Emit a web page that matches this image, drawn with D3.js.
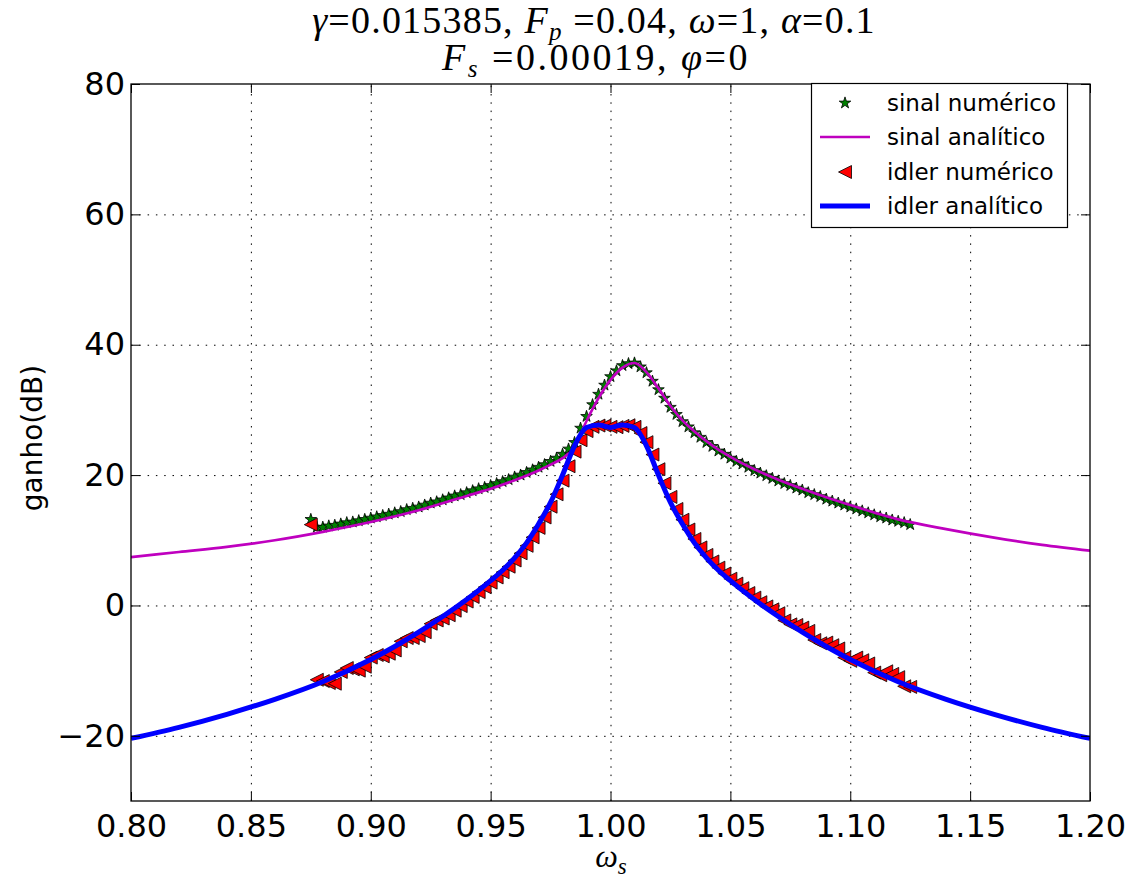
<!DOCTYPE html>
<html>
<head>
<meta charset="utf-8">
<title>ganho</title>
<script src="https://cdnjs.cloudflare.com/ajax/libs/d3/7.8.5/d3.min.js"></script>
<style>
  body { margin: 0; background: #fff; }
  svg { font-family: "DejaVu Sans", sans-serif; }
  .axis path { display: none; }
  .axis line { stroke: #000; stroke-width: 1; }
  .axis text { font-size: 32px; fill: #000; font-family: "DejaVu Sans", sans-serif; }
  .grid line { stroke: #000; stroke-width: 1; stroke-dasharray: 1.5,6.8; }
  .grid path { display: none; }
  .grid text { display: none; }
  .math { font-family: "Liberation Serif", serif; }
</style>
</head>
<body>
<div id="chart"></div>
<script>
// ticks
var xTicks = [0.80, 0.85, 0.90, 0.95, 1.00, 1.05, 1.10, 1.15, 1.20];
var yTicks = [-20, 0, 20, 40, 60, 80];

// curva analitica do sinal
var sinalX = [0.80, 0.82, 0.84, 0.86, 0.88, 0.90, 0.92, 0.94, 0.95, 0.96, 0.97, 0.975, 0.98, 0.985, 0.99, 0.995,
  1.0, 1.005, 1.01, 1.015, 1.02, 1.025, 1.03, 1.035, 1.04, 1.045, 1.05, 1.06, 1.07, 1.08, 1.09, 1.10,
  1.12, 1.14, 1.16, 1.18, 1.20];
var sinalY = [7.4, 8.2, 9.0, 10.0, 11.3, 12.8, 14.6, 16.8, 17.9, 19.2, 20.7, 21.6, 22.6, 24.3, 28.3, 31.8,
  34.6, 36.5, 37.2, 35.8, 33.3, 30.6, 28.4, 26.7, 25.2, 23.9, 22.8, 20.9, 19.3, 17.9, 16.6, 15.4,
  13.2, 11.7, 10.4, 9.3, 8.4];

// curva analitica do idler
var idlerX = [0.80, 0.82, 0.84, 0.86, 0.88, 0.90, 0.91, 0.92, 0.93, 0.94, 0.95, 0.955, 0.96, 0.965, 0.97, 0.975,
  0.98, 0.985, 0.99, 0.995, 1.0, 1.005, 1.01, 1.015, 1.02, 1.025, 1.03, 1.035, 1.04, 1.045, 1.05,
  1.06, 1.07, 1.08, 1.09, 1.10, 1.12, 1.14, 1.16, 1.18, 1.20];
var idlerY = [-20.4, -18.7, -16.7, -14.4, -11.7, -8.3, -6.3, -4.1, -1.7, 0.9, 3.8, 5.4, 7.3, 9.6, 12.5, 15.8,
  20.0, 24.5, 27.3, 27.7, 27.3, 27.7, 27.3, 24.5, 20.0, 15.8, 12.5, 9.6, 7.3, 5.4, 3.8,
  0.9, -1.7, -4.1, -6.3, -8.3, -11.7, -14.4, -16.7, -18.7, -20.4];

// pontos numericos
var numX = [0.875, 0.8775, 0.88, 0.8825, 0.885, 0.8875, 0.89, 0.8925, 0.895, 0.8975,
  0.9, 0.9025, 0.905, 0.9075, 0.91, 0.9125, 0.915, 0.9175, 0.92, 0.9225,
  0.925, 0.9275, 0.93, 0.9325, 0.935, 0.9375, 0.94, 0.9425, 0.945, 0.9475,
  0.95, 0.9525, 0.955, 0.9575, 0.96, 0.9625, 0.965, 0.9675, 0.97, 0.9725,
  0.975, 0.9775, 0.98, 0.9825, 0.985, 0.9875, 0.99, 0.9925, 0.995, 0.9975,
  1.0, 1.0025, 1.005, 1.0075, 1.01, 1.0125, 1.015, 1.0175, 1.02, 1.0225,
  1.025, 1.0275, 1.03, 1.0325, 1.035, 1.0375, 1.04, 1.0425, 1.045, 1.0475,
  1.05, 1.0525, 1.055, 1.0575, 1.06, 1.0625, 1.065, 1.0675, 1.07, 1.0725,
  1.075, 1.0775, 1.08, 1.0825, 1.085, 1.0875, 1.09, 1.0925, 1.095, 1.0975,
  1.1, 1.1025, 1.105, 1.1075, 1.11, 1.1125, 1.115, 1.1175, 1.12, 1.1225, 1.125];
var sinalNum = [13.2, 12.0, 12.0, 12.2, 12.3, 12.5, 12.7, 12.8, 13.0, 13.2,
  13.4, 13.6, 13.8, 14.0, 14.2, 14.4, 14.7, 14.9, 15.1, 15.4,
  15.7, 15.9, 16.2, 16.5, 16.8, 17.0, 17.3, 17.6, 17.9, 18.1,
  18.4, 18.7, 19.0, 19.3, 19.7, 20.0, 20.4, 20.8, 21.2, 21.6,
  22.1, 22.6, 23.2, 24.0, 25.0, 27.2, 29.0, 30.8, 32.4, 33.8,
  35.1, 36.0, 36.8, 37.1, 37.2, 36.6, 35.7, 34.4, 33.1, 31.8,
  30.4, 29.3, 28.2, 27.4, 26.5, 25.8, 25.0, 24.4, 23.7, 23.2,
  22.6, 22.1, 21.7, 21.2, 20.7, 20.3, 19.9, 19.5, 19.1, 18.7,
  18.4, 18.0, 17.7, 17.3, 17.0, 16.7, 16.3, 16.0, 15.7, 15.4,
  15.1, 14.8, 14.5, 14.2, 13.9, 13.6, 13.4, 13.1, 12.9, 12.7, 12.4];
var idlerNum = [12.4, -11.4, -11.6, -11.9, -12.0, -10.2, -9.6, -9.8, -10.0, -9.4,
  -8.0, -7.6, -7.8, -7.4, -6.9, -5.5, -5.0, -5.0, -4.7, -4.1,
  -2.8, -2.3, -2.0, -1.5, -0.8, -0.1, 0.6, 1.3, 2.05, 2.8,
  3.5, 4.3, 5.1, 5.95, 6.9, 8.0, 9.15, 10.45, 11.9, 13.5,
  15.15, 17.05, 19.15, 21.35, 23.6, 25.35, 26.75, 27.4, 27.6, 27.6,
  27.4, 27.35, 27.55, 27.65, 27.4, 26.45, 25.05, 23.15, 20.9, 18.75,
  16.65, 14.8, 13.15, 11.65, 10.2, 8.9, 7.75, 6.75, 5.8, 4.9,
  4.1, 3.35, 2.65, 1.9, 1.2, 0.5, -0.15, -0.6, -1.2, -2.3,
  -2.9, -3.0, -3.4, -3.9, -5.3, -5.8, -5.7, -6.1, -6.6, -8.0,
  -8.5, -8.0, -8.4, -8.9, -10.3, -10.7, -10.1, -10.5, -11.0, -12.4, -12.5];

var legendLabels = ["sinal numérico", "sinal analítico", "idler numérico", "idler analítico"];

var W = 1137, H = 886;
var pLeft = 131, pRight = 1090, pTop = 84, pBottom = 801;

var svg = d3.select("#chart").append("svg")
  .attr("width", W).attr("height", H);

var x = d3.scaleLinear().domain([0.8, 1.2]).range([pLeft, pRight]);
var y = d3.scaleLinear().domain([-30, 80]).range([pBottom, pTop]);

svg.append("defs").append("clipPath").attr("id", "clip")
  .append("rect").attr("x", pLeft).attr("y", pTop)
  .attr("width", pRight - pLeft).attr("height", pBottom - pTop);

// grade pontilhada
svg.append("g").attr("class", "grid")
  .attr("transform", "translate(0," + pBottom + ")")
  .call(d3.axisBottom(x).tickValues(xTicks.slice(1, -1)).tickSize(-(pBottom - pTop)));
svg.append("g").attr("class", "grid")
  .attr("transform", "translate(" + pLeft + ",0)")
  .call(d3.axisLeft(y).tickValues(yTicks.slice(0, -1)).tickSize(-(pRight - pLeft)));

var plot = svg.append("g").attr("clip-path", "url(#clip)");

var starSym = d3.symbol().type(d3.symbolStar).size(42);
var triPath = function(r) {
  return "M" + (-r) + ",0L" + r + "," + (-r) + "L" + r + "," + r + "Z";
};

// sinal numerico
plot.append("g").selectAll("path")
  .data(numX)
  .enter().append("path")
  .attr("d", starSym())
  .attr("transform", function(d, i) { return "translate(" + x(d) + "," + y(sinalNum[i]) + ")"; })
  .attr("fill", "#008000").attr("stroke", "#000").attr("stroke-width", 0.8);

// sinal analitico
var line = d3.line().curve(d3.curveMonotoneX);
plot.append("path")
  .attr("d", line(sinalX.map(function(d, i) { return [x(d), y(sinalY[i])]; })))
  .attr("fill", "none").attr("stroke", "#bf00bf").attr("stroke-width", 2.7);

// idler numerico
plot.append("g").selectAll("path")
  .data(numX)
  .enter().append("path")
  .attr("d", triPath(6.5))
  .attr("transform", function(d, i) { return "translate(" + x(d) + "," + y(idlerNum[i]) + ")"; })
  .attr("fill", "#ff0000").attr("stroke", "#000").attr("stroke-width", 0.8);

// idler analitico
plot.append("path")
  .attr("d", line(idlerX.map(function(d, i) { return [x(d), y(idlerY[i])]; })))
  .attr("fill", "none").attr("stroke", "#0000ff").attr("stroke-width", 5);

// eixos (ticks para dentro)
var fx = d3.format(".2f");
svg.append("g").attr("class", "axis")
  .attr("transform", "translate(0," + pBottom + ")")
  .call(d3.axisBottom(x).tickValues(xTicks).tickSize(-9).tickPadding(13).tickFormat(fx));
svg.append("g").attr("class", "axis")
  .attr("transform", "translate(0," + pTop + ")")
  .call(d3.axisTop(x).tickValues(xTicks).tickSize(-9).tickFormat(""));
svg.append("g").attr("class", "axis")
  .attr("transform", "translate(" + pLeft + ",0)")
  .call(d3.axisLeft(y).tickValues(yTicks).tickSize(-9).tickPadding(6));
svg.append("g").attr("class", "axis")
  .attr("transform", "translate(" + pRight + ",0)")
  .call(d3.axisRight(y).tickValues(yTicks).tickSize(-9).tickFormat(""));

svg.append("rect")
  .attr("x", pLeft).attr("y", pTop)
  .attr("width", pRight - pLeft).attr("height", pBottom - pTop)
  .attr("fill", "none").attr("stroke", "#000").attr("stroke-width", 1.3);

// legenda
var lg = svg.append("g");
lg.append("rect")
  .attr("x", 811.5).attr("y", 83.5).attr("width", 256).attr("height", 144)
  .attr("fill", "#fff").attr("stroke", "#000").attr("stroke-width", 1.2);
var rowY = [103, 137, 172, 206];
lg.append("path").attr("d", starSym())
  .attr("transform", "translate(845," + rowY[0] + ")")
  .attr("fill", "#008000").attr("stroke", "#000").attr("stroke-width", 0.8);
lg.append("line").attr("x1", 820).attr("x2", 870).attr("y1", rowY[1]).attr("y2", rowY[1])
  .attr("stroke", "#bf00bf").attr("stroke-width", 2.7);
lg.append("path").attr("d", triPath(6.5))
  .attr("transform", "translate(845," + rowY[2] + ")")
  .attr("fill", "#ff0000").attr("stroke", "#000").attr("stroke-width", 0.8);
lg.append("line").attr("x1", 820).attr("x2", 870).attr("y1", rowY[3]).attr("y2", rowY[3])
  .attr("stroke", "#0000ff").attr("stroke-width", 5);
lg.selectAll("text.lab")
  .data(legendLabels)
  .enter().append("text")
  .attr("class", "lab")
  .attr("x", 887).attr("y", function(d, i) { return rowY[i]; })
  .attr("dy", "0.36em")
  .attr("font-size", 23)
  .text(function(d) { return d; });

// rotulos
svg.append("text")
  .attr("transform", "translate(42,438) rotate(-90)")
  .attr("text-anchor", "middle")
  .attr("font-size", 28)
  .text("ganho(dB)");

var xl = svg.append("text").attr("class", "math")
  .attr("x", 611).attr("y", 867)
  .attr("text-anchor", "middle").attr("font-size", 32);
xl.append("tspan").attr("font-style", "italic").text("ω");
xl.append("tspan").attr("font-style", "italic").attr("font-size", 23).attr("dy", 7).text("s");

// titulo
var t1 = svg.append("text").attr("class", "math")
  .attr("x", 594).attr("y", 33)
  .attr("text-anchor", "middle").attr("font-size", 38)
  .attr("letter-spacing", 1.2);
t1.append("tspan").attr("font-style", "italic").text("γ");
t1.append("tspan").text("=0.015385, ");
t1.append("tspan").attr("font-style", "italic").text("F");
t1.append("tspan").attr("font-style", "italic").attr("font-size", 25).attr("dy", 7).text("p");
t1.append("tspan").attr("dy", -7).text(" =0.04, ");
t1.append("tspan").attr("font-style", "italic").text("ω");
t1.append("tspan").text("=1, ");
t1.append("tspan").attr("font-style", "italic").text("α");
t1.append("tspan").text("=0.1");

var t2 = svg.append("text").attr("class", "math")
  .attr("x", 596).attr("y", 70)
  .attr("text-anchor", "middle").attr("font-size", 38)
  .attr("letter-spacing", 2.5);
t2.append("tspan").attr("font-style", "italic").text("F");
t2.append("tspan").attr("font-style", "italic").attr("font-size", 25).attr("dy", 7).text("s");
t2.append("tspan").attr("dy", -7).text(" =0.00019, ");
t2.append("tspan").attr("font-style", "italic").text("φ");
t2.append("tspan").text("=0");
</script>
</body>
</html>
